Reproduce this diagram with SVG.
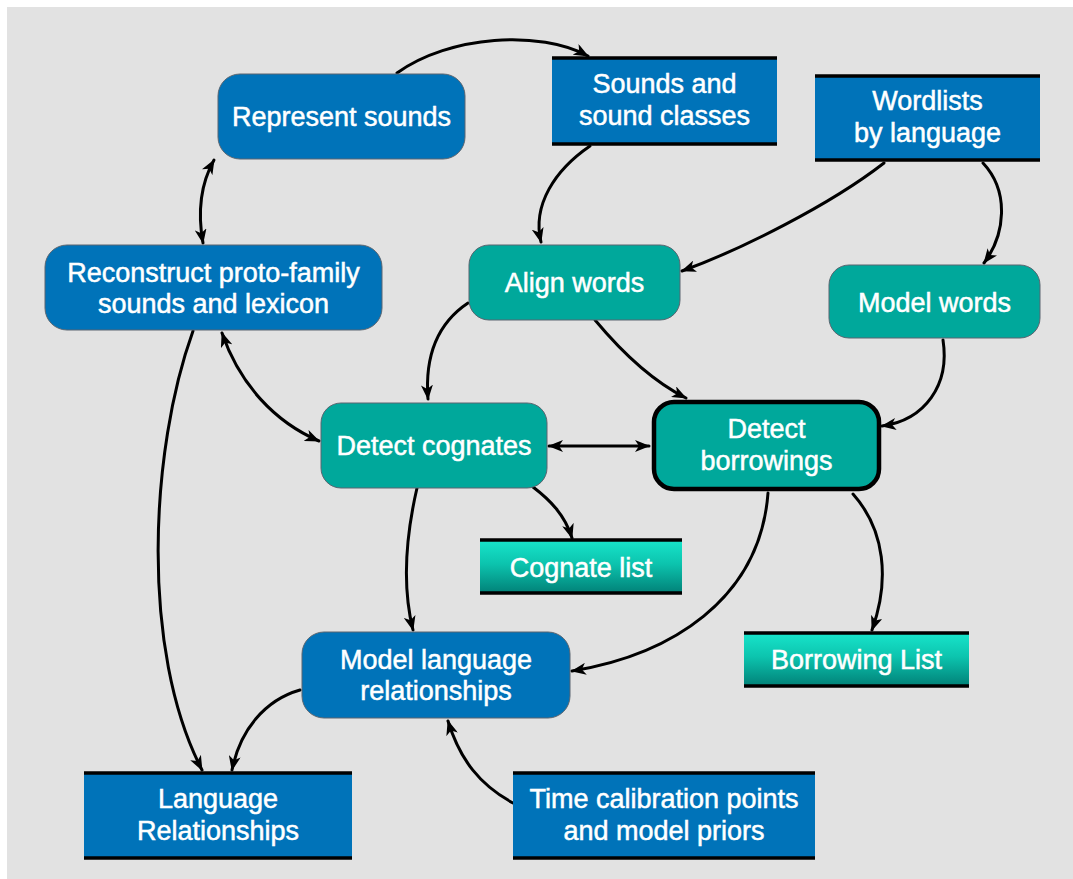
<svg xmlns="http://www.w3.org/2000/svg" width="1073" height="879" viewBox="0 0 1073 879">
<defs>
<style>
.t{font-family:"Liberation Sans",Arial,sans-serif;font-size:27px;fill:#fff;stroke:#fff;stroke-width:0.5;text-anchor:middle}
.rb{fill:#0073b9;stroke:#5a6570;stroke-width:1}
.rt{fill:#00a89b;stroke:#5a6570;stroke-width:1}
.sq{fill:#0073b9}
.bar{stroke:#000;stroke-width:3.5}
.c{fill:none;stroke:#000;stroke-width:3;stroke-linecap:round}
</style>
<linearGradient id="gt" x1="0" y1="0" x2="0" y2="1">
<stop offset="0" stop-color="#18e6cc"/>
<stop offset="0.45" stop-color="#0cc4ae"/>
<stop offset="1" stop-color="#017f76"/>
</linearGradient>
<marker id="ah" viewBox="0 0 15 12" refX="14" refY="6" markerWidth="15" markerHeight="12" markerUnits="userSpaceOnUse" orient="auto-start-reverse">
<path d="M0,0 L15,6 L0,12 L4,6 z" fill="#000"/>
</marker>
</defs>
<rect x="0" y="0" width="1073" height="879" fill="#fff"/>
<rect x="7" y="7" width="1066" height="872" fill="#e2e2e2"/>

<g id="connectors">
<path class="c" d="M397,73 C450,35 540,30 588,56" marker-end="url(#ah)"/>
<path class="c" d="M590,146 C555,170 532,205 541,242" marker-end="url(#ah)"/>
<path class="c" d="M884,163 C830,205 740,250 682,271" marker-end="url(#ah)"/>
<path class="c" d="M983,163 C1010,192 1005,235 984,263" marker-end="url(#ah)"/>
<path class="c" d="M214,160 C200,185 198,215 203,243" marker-start="url(#ah)" marker-end="url(#ah)"/>
<path class="c" d="M222,333 C240,385 275,422 319,441" marker-start="url(#ah)" marker-end="url(#ah)"/>
<path class="c" d="M193,331 C150,450 140,650 202,770" marker-end="url(#ah)"/>
<path class="c" d="M468,303 C435,325 425,360 428,399" marker-end="url(#ah)"/>
<path class="c" d="M595,320 C620,350 650,380 686,398" marker-end="url(#ah)"/>
<path class="c" d="M943,340 C950,385 925,420 882,426" marker-end="url(#ah)"/>
<path class="c" d="M549,446 L649,446" marker-start="url(#ah)" marker-end="url(#ah)"/>
<path class="c" d="M533,487 C550,500 565,515 572,538" marker-end="url(#ah)"/>
<path class="c" d="M417,488 C405,540 403,590 413,630" marker-end="url(#ah)"/>
<path class="c" d="M768,493 C760,600 670,655 572,671" marker-end="url(#ah)"/>
<path class="c" d="M853,494 C885,530 890,580 872,630" marker-end="url(#ah)"/>
<path class="c" d="M300,690 C265,700 240,730 232,770" marker-end="url(#ah)"/>
<path class="c" d="M513,803 C480,785 460,760 448,721" marker-end="url(#ah)"/>
</g>

<g id="represent-sounds">
<rect class="rb" x="218" y="74" width="247" height="85" rx="22"/>
<text class="t" x="341.5" y="126">Represent sounds</text>
</g>

<g id="sounds-classes">
<rect class="sq" x="552" y="57" width="225" height="88"/>
<line class="bar" x1="552" y1="58" x2="777" y2="58"/>
<line class="bar" x1="552" y1="144" x2="777" y2="144"/>
<text class="t" x="664.5" y="93">Sounds and</text>
<text class="t" x="664.5" y="125">sound classes</text>
</g>

<g id="wordlists">
<rect class="sq" x="815" y="75" width="225" height="86"/>
<line class="bar" x1="815" y1="76" x2="1040" y2="76"/>
<line class="bar" x1="815" y1="160" x2="1040" y2="160"/>
<text class="t" x="927.5" y="110">Wordlists</text>
<text class="t" x="927.5" y="142">by language</text>
</g>

<g id="reconstruct">
<rect class="rb" x="45" y="245" width="337" height="85" rx="22"/>
<text class="t" x="213.5" y="282">Reconstruct proto-family</text>
<text class="t" x="213.5" y="313">sounds and lexicon</text>
</g>

<g id="align-words">
<rect class="rt" x="469" y="245" width="211" height="75" rx="20"/>
<text class="t" x="574.5" y="292">Align words</text>
</g>

<g id="model-words">
<rect class="rt" x="829" y="265" width="211" height="73" rx="20"/>
<text class="t" x="934.5" y="312">Model words</text>
</g>

<g id="detect-cognates">
<rect class="rt" x="321" y="403" width="226" height="85" rx="20"/>
<text class="t" x="434" y="455">Detect cognates</text>
</g>

<g id="detect-borrowings">
<rect x="654" y="402" width="225" height="87" rx="20" fill="#00a89b" stroke="#000" stroke-width="4.5"/>
<text class="t" x="766.5" y="438">Detect</text>
<text class="t" x="766.5" y="470">borrowings</text>
</g>

<g id="cognate-list">
<rect x="480" y="539" width="202" height="55" fill="url(#gt)"/>
<line class="bar" x1="480" y1="540" x2="682" y2="540"/>
<line class="bar" x1="480" y1="593" x2="682" y2="593"/>
<text class="t" x="581" y="577">Cognate list</text>
</g>

<g id="borrowing-list">
<rect x="744" y="632" width="225" height="55" fill="url(#gt)"/>
<line class="bar" x1="744" y1="633" x2="969" y2="633"/>
<line class="bar" x1="744" y1="686" x2="969" y2="686"/>
<text class="t" x="856.5" y="669">Borrowing List</text>
</g>

<g id="model-language">
<rect class="rb" x="302" y="632" width="268" height="86" rx="22"/>
<text class="t" x="436" y="669">Model language</text>
<text class="t" x="436" y="700">relationships</text>
</g>

<g id="language-relationships">
<rect class="sq" x="84" y="772" width="268" height="87"/>
<line class="bar" x1="84" y1="773" x2="352" y2="773"/>
<line class="bar" x1="84" y1="858" x2="352" y2="858"/>
<text class="t" x="218" y="808">Language</text>
<text class="t" x="218" y="840">Relationships</text>
</g>

<g id="time-calibration">
<rect class="sq" x="513" y="772" width="302" height="87"/>
<line class="bar" x1="513" y1="773" x2="815" y2="773"/>
<line class="bar" x1="513" y1="858" x2="815" y2="858"/>
<text class="t" x="664" y="808">Time calibration points</text>
<text class="t" x="664" y="840">and model priors</text>
</g>
</svg>
